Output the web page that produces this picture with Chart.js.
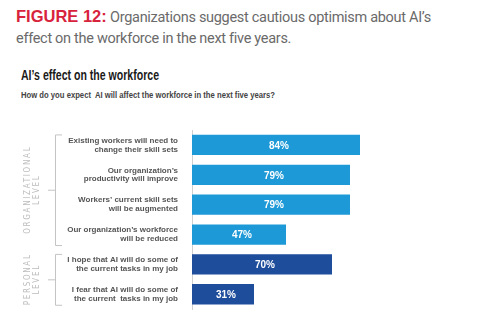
<!DOCTYPE html>
<html>
<head>
<meta charset="utf-8">
<script src="https://cdn.jsdelivr.net/npm/chart.js@4"></script>
<style>
  html, body { margin: 0; padding: 0; background: #fff; }
  #wrap { position: relative; width: 499px; height: 324px; overflow: hidden; }
  .fig { position: absolute; left: 16px; top: 6px; font-family: Roboto, "Liberation Sans", sans-serif;
         font-size: 14.5px; letter-spacing: -0.3px; line-height: 21px; color: #6a6a6a; width: 480px; }
  .fig b { color: #d8233d; font-size: 16.5px; letter-spacing: 0; font-family: "Liberation Sans", Arial, sans-serif; }
  .fit { position: absolute; left: 21px; white-space: nowrap; transform-origin: 0 0;
         font-family: "Liberation Sans", Arial, sans-serif; font-weight: bold; }
  .sub1 { top: 67px; font-size: 14px; color: #1a1a1a; }
  .sub2 { top: 90px; font-size: 8.5px; color: #444; }
  canvas { position: absolute; left: 0; top: 0; }
</style>
</head>
<body>
<div id="wrap">
  <div class="fig"><b>FIGURE 12:</b> Organizations suggest cautious optimism about AI’s<br>effect on the workforce in the next five years.</div>
  <div class="fit sub1" data-w="138">AI’s effect on the workforce</div>
  <div class="fit sub2" data-w="254">How do you expect&nbsp; AI will affect the workforce in the next five years?</div>
  <canvas id="chart" width="499" height="324"></canvas>
</div>
<script>
const categories = [
  ["Existing workers will need to", "change their skill sets"],
  ["Our organization’s", "productivity will improve"],
  ["Workers’ current skill sets", "will be augmented"],
  ["Our organization’s workforce", "will be reduced"],
  ["I hope that AI will do some of", "the current tasks in my job"],
  ["I fear that AI will do some of", "the current  tasks in my job"]
];
const values = [84, 79, 79, 47, 70, 31];
const levels = ["org", "org", "org", "org", "personal", "personal"];
const groups = [
  { label: ["ORGANIZATIONAL", "LEVEL"], from: 0, to: 3 },
  { label: ["PERSONAL", "LEVEL"], from: 4, to: 5 }
];

const levelColors = { org: "#1c99d6", personal: "#1e4d9c" };
const sans = '"Liberation Sans", Arial, sans-serif';
const narrow = '"DejaVu Sans Condensed", sans-serif';

// squeeze the condensed-looking headings to their width in the picture
document.querySelectorAll('.fit').forEach(el => {
  const w = el.getBoundingClientRect().width;
  el.style.transform = 'scaleX(' + (el.dataset.w / w) + ')';
});

// white % labels inside the bars
const valueLabels = {
  id: 'valueLabels',
  afterDatasetsDraw(chart) {
    const ctx = chart.ctx;
    const meta = chart.getDatasetMeta(0);
    ctx.save();
    ctx.fillStyle = '#fff';
    ctx.font = 'bold 10px ' + sans;
    ctx.textAlign = 'center';
    ctx.textBaseline = 'middle';
    meta.data.forEach((bar, i) => {
      const cx = (bar.base + bar.x) / 2 + 3;
      ctx.fillText(values[i] + '%', cx, bar.y + 1);
    });
    ctx.restore();
  }
};

// brackets + rotated group labels on the left
const groupBrackets = {
  id: 'groupBrackets',
  afterDraw(chart) {
    const ctx = chart.ctx;
    const y = chart.scales.y;
    const half = 10.5;
    ctx.save();
    groups.forEach(g => {
      const top = y.getPixelForValue(g.from) - half;
      const bot = y.getPixelForValue(g.to) + half;
      const mid = (top + bot) / 2;
      ctx.strokeStyle = '#c4c4c4';
      ctx.lineWidth = 1;
      ctx.beginPath();
      ctx.moveTo(62, top + 0.5); ctx.lineTo(55.5, top + 0.5);
      ctx.lineTo(55.5, bot + 0.5); ctx.lineTo(62, bot + 0.5);
      ctx.moveTo(55.5, mid + 0.5); ctx.lineTo(48, mid + 0.5);
      ctx.stroke();

      ctx.save();
      ctx.translate(0, mid);
      ctx.rotate(-Math.PI / 2);
      ctx.fillStyle = '#bdbdbd';
      ctx.font = '8px ' + narrow;
      ctx.letterSpacing = '1.7px';
      ctx.textAlign = 'center';
      ctx.textBaseline = 'middle';
      ctx.fillText(g.label[0], 0, 28);
      ctx.fillText(g.label[1], 0, 37);
      ctx.restore();
    });
    ctx.restore();
  }
};

new Chart(document.getElementById('chart'), {
  type: 'bar',
  data: {
    labels: categories,
    datasets: [{
      data: values,
      backgroundColor: levels.map(l => levelColors[l]),
      barPercentage: 0.68,
      categoryPercentage: 1.0
    }]
  },
  options: {
    indexAxis: 'y',
    responsive: false,
    animation: false,
    layout: { padding: { left: 52, right: 107, top: 130, bottom: 5 } },
    plugins: { legend: { display: false }, tooltip: { enabled: false } },
    scales: {
      x: { display: false, min: 0, max: 100 },
      y: {
        afterFit(scale) { scale.width = 140; },
        grid: { display: false },
        border: { display: true, color: '#d0d0d0', width: 1 },
        ticks: {
          padding: 6,
          color: '#555',
          font: { family: sans, size: 8, weight: 'bold', lineHeight: 1.1 }
        }
      }
    }
  },
  plugins: [valueLabels, groupBrackets]
});
</script>
</body>
</html>
